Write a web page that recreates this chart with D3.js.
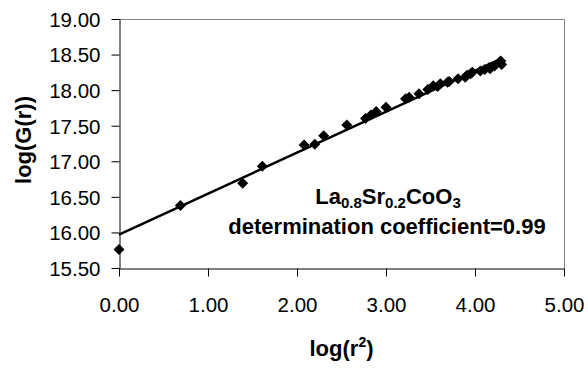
<!DOCTYPE html>
<html>
<head>
<meta charset="utf-8">
<script src="https://cdn.jsdelivr.net/npm/d3@7"></script>
<style>
  body { margin: 0; background: #fff; }
  svg { display: block; font-family: "Liberation Sans", Arial, sans-serif; }
</style>
</head>
<body>
<svg id="chart" width="588" height="368"></svg>
<script>
// log(r^2) values of the measured points
const logR2 = [0, 0.69, 1.39, 1.61, 2.08, 2.20, 2.30, 2.56, 2.77, 2.83, 2.89, 3.00,
  3.22, 3.26, 3.37, 3.47, 3.53, 3.58, 3.61, 3.69, 3.71, 3.81, 3.89, 3.91, 3.95,
  3.97, 4.06, 4.11, 4.16, 4.17, 4.22, 4.28, 4.29, 4.30];
// log(G(r)) values
const logG = [15.76, 16.38, 16.69, 16.93, 17.23, 17.24, 17.36, 17.51, 17.60, 17.65, 17.70, 17.76,
  17.88, 17.90, 17.95, 18.01, 18.06, 18.05, 18.09, 18.11, 18.12, 18.16, 18.18, 18.21, 18.23,
  18.25, 18.27, 18.29, 18.32, 18.30, 18.34, 18.40, 18.41, 18.36];
// linear trend line ends (x, y)
const fitX = [0, 4.31];
const fitY = [15.97, 18.45];

const xTicks = [0, 1, 2, 3, 4, 5];
const yTicks = [15.5, 16, 16.5, 17, 17.5, 18, 18.5, 19];

const svg = d3.select('#chart');
const mLeft = 119, mRight = 564, mTop = 19, mBottom = 268;

const x = d3.scaleLinear().domain([0, 5]).range([mLeft, mRight]);
const y = d3.scaleLinear().domain([15.5, 19]).range([mBottom, mTop]);

// plot area frame (top / right in grey)
svg.append('path')
  .attr('d', `M${mLeft},${mTop + 0.5}H${mRight + 0.5}V${mBottom}`)
  .attr('fill', 'none')
  .attr('stroke', '#808080')
  .attr('stroke-width', 1);

// axes
const yAxis = svg.append('g')
  .attr('transform', `translate(${mLeft + 0.5},0)`)
  .call(d3.axisLeft(y).tickValues(yTicks).tickSize(8).tickPadding(11)
    .tickFormat(d3.format('.2f')).tickSizeOuter(0));

const xAxis = svg.append('g')
  .attr('transform', `translate(0,${mBottom + 0.5})`)
  .call(d3.axisBottom(x).tickValues(xTicks).tickSize(8).tickPadding(21)
    .tickFormat(d3.format('.2f')).tickSizeOuter(0));

[yAxis, xAxis].forEach(a => {
  a.select('.domain').attr('stroke', '#000');
  a.selectAll('.tick line').attr('stroke', '#000');
  a.selectAll('.tick text')
    .attr('fill', '#000')
    .style('font-size', '20.5px')
    .style('font-family', '"Liberation Sans", Arial, sans-serif');
});
yAxis.selectAll('.tick text').attr('dy', '0.36em');

// trend line
svg.append('line')
  .attr('x1', x(fitX[0])).attr('y1', y(fitY[0]))
  .attr('x2', x(fitX[1])).attr('y2', y(fitY[1]))
  .attr('stroke', '#000')
  .attr('stroke-width', 2.5);

// diamond markers
const diamond = 'M0,-5.5L5.5,0L0,5.5L-5.5,0Z';
svg.append('g').selectAll('path')
  .data(logR2.map((v, i) => [v, logG[i]]))
  .join('path')
  .attr('d', diamond)
  .attr('transform', d => `translate(${x(d[0])},${y(d[1])})`)
  .attr('fill', '#000');

// axis titles
svg.append('text')
  .attr('transform', 'translate(31,140) rotate(-90)')
  .attr('text-anchor', 'middle')
  .style('font-size', '22px')
  .style('font-weight', 'bold')
  .text('log(G(r))');

const xt = svg.append('text')
  .attr('x', (mLeft + mRight) / 2)
  .attr('y', 356)
  .attr('text-anchor', 'middle')
  .style('font-size', '22px')
  .style('font-weight', 'bold');
xt.append('tspan').text('log(r');
xt.append('tspan').attr('dy', -9).style('font-size', '14px').text('2');
xt.append('tspan').attr('dy', 9).text(')');

// annotation
const t1 = svg.append('text')
  .attr('x', 388)
  .attr('y', 204)
  .attr('text-anchor', 'middle')
  .style('font-size', '22px')
  .style('font-weight', 'bold');
t1.append('tspan').text('La');
t1.append('tspan').attr('dy', 4).style('font-size', '15px').text('0.8');
t1.append('tspan').attr('dy', -4).text('Sr');
t1.append('tspan').attr('dy', 4).style('font-size', '15px').text('0.2');
t1.append('tspan').attr('dy', -4).text('CoO');
t1.append('tspan').attr('dy', 4).style('font-size', '15px').text('3');

svg.append('text')
  .attr('x', 387)
  .attr('y', 234)
  .attr('text-anchor', 'middle')
  .style('font-size', '22px')
  .style('font-weight', 'bold')
  .text('determination coefficient=0.99');
</script>
</body>
</html>
